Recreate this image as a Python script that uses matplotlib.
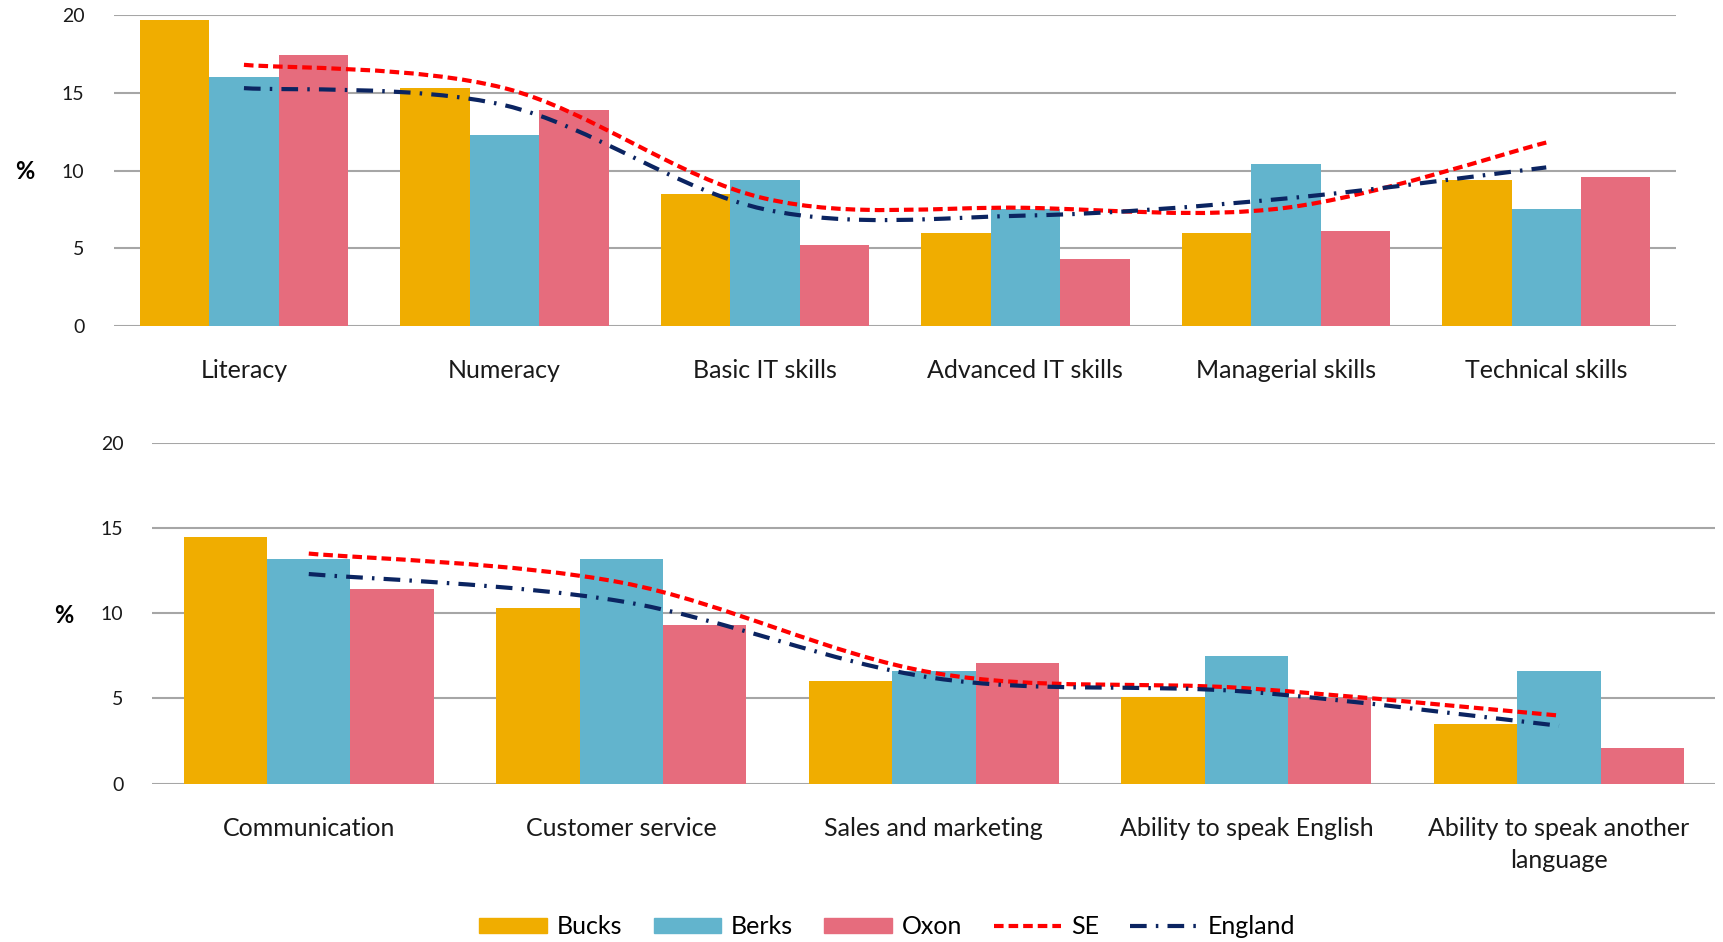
import matplotlib
matplotlib.use("Agg")
import matplotlib.pyplot as plt
from matplotlib.path import Path
from matplotlib.patches import PathPatch, Patch
from matplotlib.lines import Line2D
import numpy as np

plt.rcParams['font.family'] = ['Lato', 'DejaVu Sans']

top_cats = ['Literacy', 'Numeracy', 'Basic IT skills', 'Advanced IT skills',
            'Managerial skills', 'Technical skills']
top_bucks = [19.7, 15.3, 8.5, 6.0, 6.0, 9.4]
top_berks = [16.0, 12.3, 9.4, 7.5, 10.4, 7.5]
top_oxon = [17.4, 13.9, 5.2, 4.3, 6.1, 9.6]
top_se = [16.8, 15.3, 8.2, 7.6, 7.6, 11.8]
top_eng = [15.3, 14.2, 7.5, 7.1, 8.2, 10.2]

bot_cats = ['Communication', 'Customer service', 'Sales and marketing',
            'Ability to speak English', 'Ability to speak another\nlanguage']
bot_bucks = [14.5, 10.3, 6.0, 5.1, 3.5]
bot_berks = [13.2, 13.2, 6.6, 7.5, 6.6]
bot_oxon = [11.4, 9.3, 7.1, 5.0, 2.1]
bot_se = [13.5, 11.8, 6.5, 5.6, 4.0]
bot_eng = [12.3, 10.7, 6.2, 5.4, 3.4]

c_bucks = '#F0AD00'
c_berks = '#62B4CD'
c_oxon = '#E66C7D'
c_se = '#FF0000'
c_eng = '#0B2461'
se_dash = (2.3, 1.2)
eng_dash = (4, 2.2, 0.6, 2.2)


def smooth_path(xs, ys):
    # excel style smoothed line: bezier through the points
    pts = np.column_stack([xs, ys]).astype(float)
    n = len(pts)
    verts = [pts[0]]
    codes = [Path.MOVETO]
    for i in range(n - 1):
        p0 = pts[max(i - 1, 0)]
        p1 = pts[i]
        p2 = pts[i + 1]
        p3 = pts[min(i + 2, n - 1)]
        verts += [p1 + (p2 - p0) / 6, p2 - (p3 - p1) / 6, p2]
        codes += [Path.CURVE4] * 3
    return Path(verts, codes)


def draw_panel(ax, cats, bucks, berks, oxon, se, eng):
    x = np.arange(len(cats))
    w = 0.8 / 3
    ax.bar(x - w, bucks, w, color=c_bucks, zorder=2)
    ax.bar(x, berks, w, color=c_berks, zorder=2)
    ax.bar(x + w, oxon, w, color=c_oxon, zorder=2)
    ax.add_patch(PathPatch(smooth_path(x, se), fill=False, edgecolor=c_se, lw=3,
                           linestyle=(0, se_dash), zorder=3))
    ax.add_patch(PathPatch(smooth_path(x, eng), fill=False, edgecolor=c_eng, lw=3,
                           linestyle=(0, eng_dash), zorder=3))
    ax.set_xlim(-0.5, len(cats) - 0.5)
    ax.set_ylim(0, 20)
    ax.set_yticks([0, 5, 10, 15, 20])
    ax.set_xticks(x)
    ax.set_xticklabels(cats, fontsize=18, color='#1a1a1a', linespacing=1.45)
    ax.tick_params(axis='x', length=0, pad=24)
    ax.tick_params(axis='y', length=0, pad=21, labelsize=14, labelcolor='#1a1a1a')
    ax.grid(axis='y', color='#a6a6a6', lw=1.5, zorder=0)
    for s in ax.spines.values():
        s.set_visible(False)
    ax.set_ylabel('%', rotation=0, fontsize=17, fontweight='bold')


fig = plt.figure(figsize=(17.23, 9.42), dpi=100)
ax1 = fig.add_axes([0.066, 0.654, 0.907, 0.330])
ax2 = fig.add_axes([0.0885, 0.168, 0.907, 0.362])

draw_panel(ax1, top_cats, top_bucks, top_berks, top_oxon, top_se, top_eng)
draw_panel(ax2, bot_cats, bot_bucks, bot_berks, bot_oxon, bot_se, bot_eng)
ax1.yaxis.set_label_coords(-0.057, 0.46)
ax2.yaxis.set_label_coords(-0.057, 0.46)

handles = [Patch(color=c_bucks, label='Bucks'),
           Patch(color=c_berks, label='Berks'),
           Patch(color=c_oxon, label='Oxon'),
           Line2D([], [], color=c_se, lw=3, linestyle=(0, se_dash), label='SE'),
           Line2D([], [], color=c_eng, lw=3, linestyle=(0, eng_dash), label='England')]
fig.legend(handles=handles, loc='lower center', bbox_to_anchor=(0.515, -0.02), ncol=5,
           frameon=False, fontsize=18, handlelength=2.7, handleheight=0.6,
           columnspacing=1.25, handletextpad=0.4)

fig.savefig('out.png', dpi=100)
